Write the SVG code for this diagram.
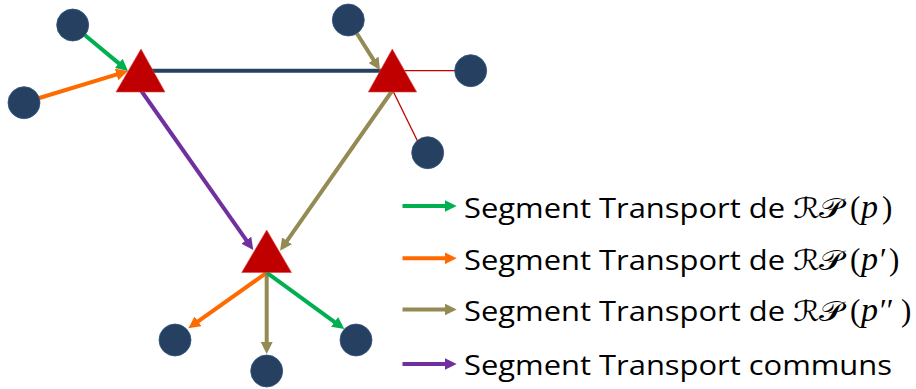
<svg xmlns="http://www.w3.org/2000/svg" width="916" height="389" viewBox="0 0 916 389">
<style>
.node circle{fill:#254061;stroke:#34557d;stroke-width:0.8}
.tri{fill:#C00000;stroke:#d44;stroke-width:0.6}
.seg{fill:none;stroke-width:4;stroke-linecap:butt}
.g{stroke:#00B050}
.o{stroke:#FF6A00}
.k{stroke:#948A54}
.p{stroke:#7030A0}
.lbl{font-family:"Open Sans","Noto Sans","Liberation Sans",sans-serif;font-size:28px;fill:#000}
.scr{font-family:"DejaVu Serif","DejaVu Sans",serif;font-size:28px;fill:#000}
.mth{font-family:"Liberation Serif","DejaVu Serif",serif;font-size:31px;fill:#000}
.it{font-style:italic;font-size:34px}
</style>
<defs>
<marker id="mg" viewBox="0 0 10 10" refX="4" refY="5" markerWidth="3" markerHeight="3" orient="auto"><path d="M0,0 L10,5 L0,10 z" fill="#00B050"/></marker>
<marker id="mo" viewBox="0 0 10 10" refX="4" refY="5" markerWidth="3" markerHeight="3" orient="auto"><path d="M0,0 L10,5 L0,10 z" fill="#FF6A00"/></marker>
<marker id="mk" viewBox="0 0 10 10" refX="4" refY="5" markerWidth="3" markerHeight="3" orient="auto"><path d="M0,0 L10,5 L0,10 z" fill="#948A54"/></marker>
<marker id="mp" viewBox="0 0 10 10" refX="4" refY="5" markerWidth="3" markerHeight="3" orient="auto"><path d="M0,0 L10,5 L0,10 z" fill="#7030A0"/></marker>
</defs>
<g id="connectors">
<line x1="141" y1="70.7" x2="392" y2="70.7" stroke="#254061" stroke-width="4"/>
<line x1="392" y1="70.7" x2="458" y2="70.7" stroke="#C00000" stroke-width="1.3"/>
<line x1="392.5" y1="90" x2="418" y2="142" stroke="#C00000" stroke-width="1.3"/>
<line class="seg g" x1="85" y1="35.2" x2="122.5" y2="66.4" marker-end="url(#mg)"/>
<line class="seg o" x1="39.3" y1="98" x2="121.1" y2="73.1" marker-end="url(#mo)"/>
<line class="seg k" x1="356.9" y1="33.5" x2="376.1" y2="63.9" marker-end="url(#mk)"/>
<line class="seg p" x1="140.7" y1="90" x2="249.1" y2="244.1" marker-end="url(#mp)"/>
<line class="seg k" x1="392.7" y1="90" x2="284.2" y2="244.8" marker-end="url(#mk)"/>
<line class="seg o" x1="266.7" y1="272.7" x2="194.2" y2="324.1" marker-end="url(#mo)"/>
<line class="seg k" x1="266.7" y1="272.7" x2="266.7" y2="346.8" marker-end="url(#mk)"/>
<line class="seg g" x1="266.7" y1="272.7" x2="338.5" y2="324.8" marker-end="url(#mg)"/>
</g>
<g id="rp1"><polygon class="tri" points="141,49 116,92 165,92"/></g>
<g id="rp2"><polygon class="tri" points="392.3,49 368.3,92 416.7,92"/></g>
<g id="rp3"><polygon class="tri" points="266.7,230 241.7,272.5 291.5,272.5"/></g>
<g id="n1" class="node"><circle cx="72.7" cy="25" r="16"/></g>
<g id="n2" class="node"><circle cx="24" cy="102.7" r="16"/></g>
<g id="n3" class="node"><circle cx="348.3" cy="20" r="16"/></g>
<g id="n4" class="node"><circle cx="470.7" cy="70.7" r="16"/></g>
<g id="n5" class="node"><circle cx="427.7" cy="152.7" r="16"/></g>
<g id="n6" class="node"><circle cx="175" cy="340" r="16"/></g>
<g id="n7" class="node"><circle cx="266.7" cy="371" r="16"/></g>
<g id="n8" class="node"><circle cx="356" cy="340" r="16"/></g>
<g id="legend">
<line class="seg g" x1="402.5" y1="206" x2="449.5" y2="206" marker-end="url(#mg)"/>
<line class="seg o" x1="402.5" y1="258.3" x2="449.5" y2="258.3" marker-end="url(#mo)"/>
<line class="seg k" x1="402.5" y1="309.5" x2="449.5" y2="309.5" marker-end="url(#mk)"/>
<line class="seg p" x1="402.5" y1="364" x2="449.5" y2="364" marker-end="url(#mp)"/>
<text class="lbl" x="464" y="217.5" textLength="321" lengthAdjust="spacingAndGlyphs">Segment Transport de</text>
<text class="scr" x="793" y="217.5" textLength="50" lengthAdjust="spacingAndGlyphs">ℛ𝒫</text>
<text class="mth" y="217.5"><tspan x="850">(</tspan><tspan class="it" x="861">p</tspan><tspan x="882">)</tspan></text>
<text class="lbl" x="464" y="270" textLength="321" lengthAdjust="spacingAndGlyphs">Segment Transport de</text>
<text class="scr" x="793" y="270" textLength="50" lengthAdjust="spacingAndGlyphs">ℛ𝒫</text>
<text class="mth" y="270"><tspan x="850">(</tspan><tspan class="it" x="861">p</tspan><tspan x="880">′</tspan><tspan x="889">)</tspan></text>
<text class="lbl" x="464" y="321" textLength="321" lengthAdjust="spacingAndGlyphs">Segment Transport de</text>
<text class="scr" x="793" y="321" textLength="50" lengthAdjust="spacingAndGlyphs">ℛ𝒫</text>
<text class="mth" y="321"><tspan x="850">(</tspan><tspan class="it" x="861">p</tspan><tspan x="880">′′</tspan><tspan x="901">)</tspan></text>
<text class="lbl" x="464" y="374.5" textLength="428" lengthAdjust="spacingAndGlyphs">Segment Transport communs</text>
</g>
</svg>
